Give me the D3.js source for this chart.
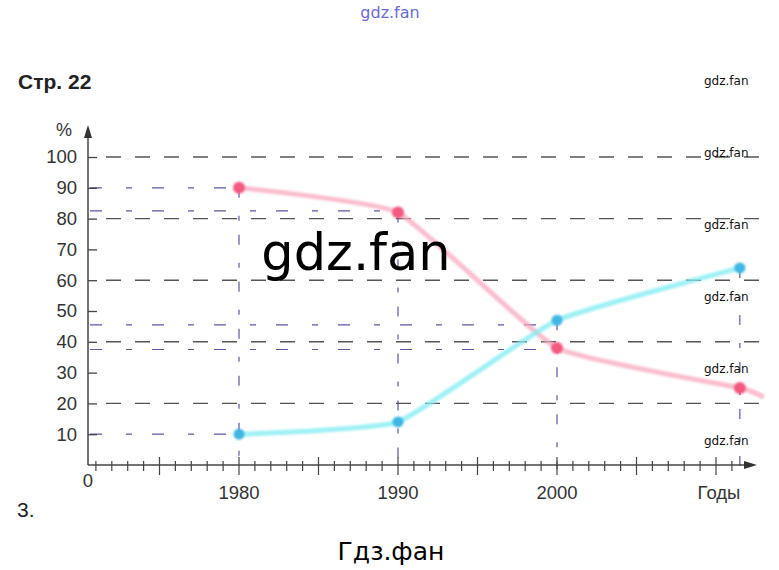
<!DOCTYPE html>
<html>
<head>
<meta charset="utf-8">
<script src="https://cdn.jsdelivr.net/npm/d3@7"></script>
<style>
  body { margin: 0; background: #fff; }
  svg { display: block; }
</style>
</head>
<body>
<div id="graph"></div>
<script>
// chart data
var years = [1980, 1990, 2000, 2011.5];
var pinkValues = [90, 82, 38, 25];
var cyanValues = [10, 14, 47, 64];
// pink line runs on a little past the last point
var pinkTailYear = 2013, pinkTailValue = 22;

var yTicks = [10, 20, 30, 40, 50, 60, 70, 80, 90, 100];
var gridValues = [20, 40, 60, 80, 100];
var xLabels = [1980, 1990, 2000];
var xLastLabel = "Годы";
// hand-drawn helper lines (values on the y axis)
var guideValues = [90, 82.5, 45.5, 37.5, 10];
var guideEnds = [1980, 1990, 2000, 2000, 1980];

var width = 779, height = 570;
var font = "Liberation Sans, Arial, sans-serif";

var svg = d3.select("#graph").append("svg")
    .attr("width", width)
    .attr("height", height);

var x = d3.scaleLinear().domain([1980, 2010]).range([239, 716]);
var y = d3.scaleLinear().domain([0, 100]).range([465, 157]);
var x0 = 88, xEnd = 757;

var soft = svg.append("defs").append("filter").attr("id", "soft");
soft.append("feGaussianBlur").attr("stdDeviation", 0.9);

// dashed grey gridlines
svg.selectAll(".grid")
    .data(gridValues)
  .enter().append("line")
    .attr("class", "grid")
    .attr("x1", x0 + 18).attr("x2", 760)
    .attr("y1", d => y(d)).attr("y2", d => y(d))
    .attr("stroke", "#555")
    .attr("stroke-width", 1.4)
    .attr("stroke-dasharray", "15,14");

// hand-drawn navy guides
svg.selectAll(".hguide")
    .data(guideValues)
  .enter().append("line")
    .attr("class", "hguide")
    .attr("x1", x0 + 2)
    .attr("x2", (d, i) => x(guideEnds[i]))
    .attr("y1", d => y(d)).attr("y2", d => y(d))
    .attr("stroke", "#3d3d8c")
    .attr("stroke-width", 1.2)
    .attr("opacity", 0.85)
    .attr("stroke-dasharray", "12,24,6,20");

svg.selectAll(".vguide")
    .data(years)
  .enter().append("line")
    .attr("class", "vguide")
    .attr("x1", d => x(d)).attr("x2", d => x(d))
    .attr("y1", (d, i) => y(Math.max(pinkValues[i], cyanValues[i])))
    .attr("y2", y(0) + 4)
    .attr("stroke", "#3d3d8c")
    .attr("stroke-width", 1.2)
    .attr("opacity", 0.85)
    .attr("stroke-dasharray", "10,18,5,14");

// y axis
var yAxis = svg.append("g")
    .attr("transform", "translate(" + x0 + ",0)")
    .call(d3.axisLeft(y).tickValues(yTicks).tickSize(8).tickPadding(3));
yAxis.select(".domain").remove();
yAxis.selectAll(".tick line").attr("x2", 9).attr("stroke", "#444").attr("stroke-width", 1.3);
yAxis.selectAll(".tick text")
    .attr("font-family", font)
    .attr("font-size", 18.5)
    .attr("fill", "#333");

svg.append("line")
    .attr("x1", x0).attr("x2", x0)
    .attr("y1", y(0)).attr("y2", 132)
    .attr("stroke", "#444").attr("stroke-width", 1.5);
svg.append("path")
    .attr("d", d3.line()([[x0 - 4, 138], [x0, 125], [x0 + 4, 138]]) + "Z")
    .attr("fill", "#333");

svg.append("text")
    .attr("x", 64).attr("y", 136)
    .attr("text-anchor", "middle")
    .attr("font-family", font)
    .attr("font-size", 18)
    .attr("fill", "#333")
    .text("%");

// x axis with yearly ticks
var tickYears = d3.range(1971, 2012);
svg.append("line")
    .attr("x1", x0).attr("x2", xEnd - 6)
    .attr("y1", y(0)).attr("y2", y(0))
    .attr("stroke", "#444").attr("stroke-width", 1.5);
svg.append("path")
    .attr("d", d3.line()([[xEnd - 13, y(0) - 4], [xEnd, y(0)], [xEnd - 13, y(0) + 4]]) + "Z")
    .attr("fill", "#333");

svg.selectAll(".xtick")
    .data(tickYears)
  .enter().append("line")
    .attr("class", "xtick")
    .attr("x1", d => x(d)).attr("x2", d => x(d))
    .attr("y1", d => d % 5 == 0 ? y(0) - 8 : y(0) - 4)
    .attr("y2", d => d % 5 == 0 ? y(0) + 10 : y(0) + 6)
    .attr("stroke", "#444")
    .attr("stroke-width", 1.2);

svg.selectAll(".xlabel")
    .data(xLabels)
  .enter().append("text")
    .attr("class", "xlabel")
    .attr("x", d => x(d)).attr("y", 499)
    .attr("text-anchor", "middle")
    .attr("font-family", font)
    .attr("font-size", 18.5)
    .attr("fill", "#333")
    .text(d => d);

svg.append("text")
    .attr("x", x(2010) + 3).attr("y", 499)
    .attr("text-anchor", "middle")
    .attr("font-family", font)
    .attr("font-size", 18.5)
    .attr("fill", "#333")
    .text(xLastLabel);

svg.append("text")
    .attr("x", 88).attr("y", 487)
    .attr("text-anchor", "middle")
    .attr("font-family", font)
    .attr("font-size", 18.5)
    .attr("fill", "#333")
    .text("0");

// series lines, only lightly smoothed
var line = d3.line()
    .x(d => x(d[0]))
    .y(d => y(d[1]))
    .curve(d3.curveCardinal.tension(0.6));

var pinkPts = years.map((d, i) => [d, pinkValues[i]]).concat([[pinkTailYear, pinkTailValue]]);
var cyanPts = years.map((d, i) => [d, cyanValues[i]]);

svg.append("path")
    .attr("d", line(pinkPts))
    .attr("fill", "none")
    .attr("stroke", "#f8a9bd")
    .attr("stroke-width", 5)
    .attr("opacity", 0.75)
    .attr("filter", "url(#soft)");

svg.append("path")
    .attr("d", line(cyanPts))
    .attr("fill", "none")
    .attr("stroke", "#86edf3")
    .attr("stroke-width", 5)
    .attr("opacity", 0.8)
    .attr("filter", "url(#soft)");

svg.selectAll(".pinkdot")
    .data(years)
  .enter().append("circle")
    .attr("class", "pinkdot")
    .attr("cx", d => x(d))
    .attr("cy", (d, i) => y(pinkValues[i]))
    .attr("r", 6)
    .attr("fill", "#f25a80")
    .attr("filter", "url(#soft)");

svg.selectAll(".cyandot")
    .data(years)
  .enter().append("circle")
    .attr("class", "cyandot")
    .attr("cx", d => x(d))
    .attr("cy", (d, i) => y(cyanValues[i]))
    .attr("r", 5.5)
    .attr("fill", "#3fb6e2")
    .attr("filter", "url(#soft)");

// page texts and watermarks
svg.append("text")
    .attr("x", 390).attr("y", 18)
    .attr("text-anchor", "middle")
    .attr("font-family", "DejaVu Sans, sans-serif")
    .attr("font-size", 16)
    .attr("fill", "#6a6ad8")
    .text("gdz.fan");

svg.append("text")
    .attr("x", 18).attr("y", 89)
    .attr("font-family", font)
    .attr("font-size", 21)
    .attr("font-weight", "bold")
    .attr("fill", "#222")
    .text("Стр. 22");

svg.selectAll(".wm")
    .data([80, 152, 224, 296, 368, 440])
  .enter().append("text")
    .attr("class", "wm")
    .attr("x", 704).attr("y", d => d + 5)
    .attr("font-family", "DejaVu Sans, sans-serif")
    .attr("font-size", 12)
    .attr("fill", "#111")
    .text("gdz.fan");

svg.append("text")
    .attr("x", 356).attr("y", 270)
    .attr("text-anchor", "middle")
    .attr("font-family", "DejaVu Sans, sans-serif")
    .attr("font-size", 51)
    .attr("fill", "#000")
    .text("gdz.fan");

svg.append("text")
    .attr("x", 17).attr("y", 517)
    .attr("font-family", font)
    .attr("font-size", 21)
    .attr("fill", "#222")
    .text("3.");

svg.append("text")
    .attr("x", 391).attr("y", 560)
    .attr("text-anchor", "middle")
    .attr("font-family", "DejaVu Sans, sans-serif")
    .attr("font-size", 25)
    .attr("fill", "#000")
    .text("Гдз.фан");
</script>
</body>
</html>
